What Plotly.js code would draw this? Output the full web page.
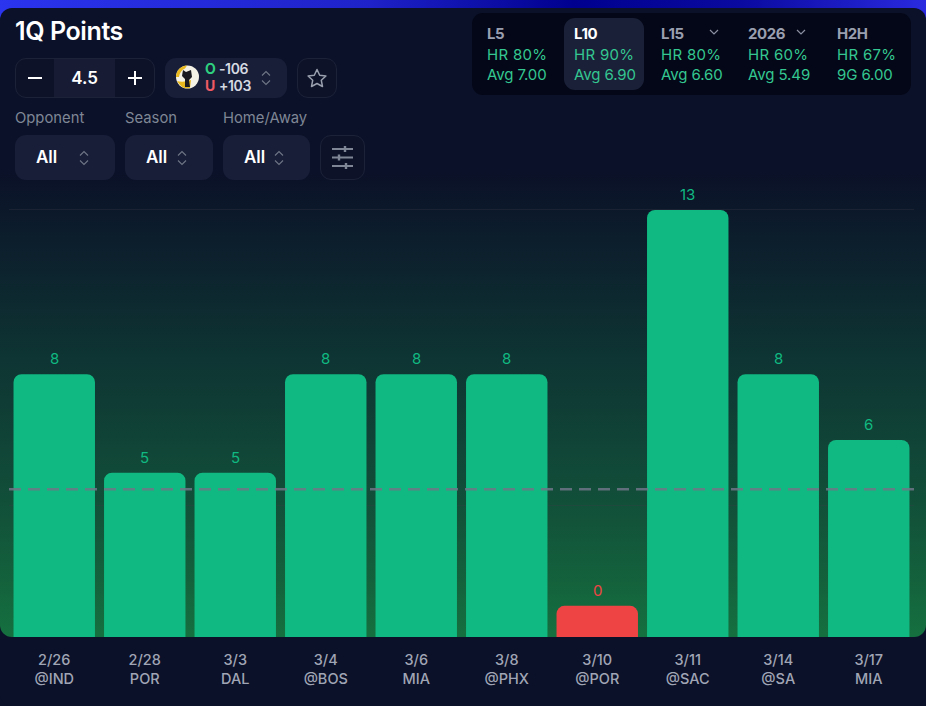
<!DOCTYPE html>
<html><head><meta charset="utf-8">
<script src="https://cdn.plot.ly/plotly-3.0.1.min.js"></script>
<style>
html,body{margin:0;padding:0;background:#0b1128;width:926px;height:706px;overflow:hidden;font-family:Inter,"Noto Sans",sans-serif}
#stripe{position:absolute;left:0;top:0;width:926px;height:30px;background:linear-gradient(90deg,#2b34ee 0%,#1e22c8 40%,#00008f 62%,#0a0aa0 80%,#2a2ae0 100%)}
#card{position:absolute;left:0;top:8px;width:926px;height:698px;background:#0b1128;border-radius:12px 12px 12px 12px}
#grad{position:absolute;left:0;top:172px;width:926px;height:465px;background:linear-gradient(180deg,#0b1128 0%,#0e3433 40%,#12533a 75%,#15703f 100%);border-radius:0 0 12px 12px}
#chart{position:absolute;left:0;top:0;width:926px;height:706px}
.ui{position:absolute;box-sizing:border-box;white-space:nowrap}
.box{background:#181e38;border-radius:11px}
.outline{border:1px solid #1c2238;border-radius:11px;background:#0d1229}
.t{position:absolute;white-space:nowrap;line-height:1;transform:translateY(-50%)}
.lbl{color:#7f8796;font-size:14.8px}
.all{color:#fff;font-size:17px;font-weight:600}
.hd{color:#9a9fb0;font-size:15px;font-weight:700;letter-spacing:-.4px}
.gr{color:#34c791;font-size:15px}
svg{position:absolute;overflow:visible}
</style></head><body>
<div id="stripe"></div><div id="card"></div><div id="grad"></div><div id="chart"></div>
<div id="ui"></div>
<script>
var dates=["2/26","2/28","3/3","3/4","3/6","3/8","3/10","3/11","3/14","3/17"];
var opponents=["@IND","POR","DAL","@BOS","MIA","@PHX","@POR","@SAC","@SA","MIA"];
var points=[8,5,5,8,8,8,0,13,8,6];
var line=4.5;
var zeroStub=0.95;
var gridValues=[4,13];
var splitNames=["L5","L10","L15","2026","H2H"];
var hitRates=["HR 80%","HR 90%","HR 80%","HR 60%","HR 67%"];
var averages=["Avg 7.00","Avg 6.90","Avg 6.60","Avg 5.49","9G 6.00"];
var filters=["Opponent","Season","Home/Away"];

var barHeights=points.map(function(v){return Math.max(v,zeroStub);});
var colors=points.map(function(v){return v>line?"#10b981":"#ef4444";});
var plotTop=172,plotBottom=637,unit=32.85;
var trace={type:"bar",x:dates,y:barHeights,marker:{color:colors,line:{width:0}},hoverinfo:"skip"};
var labels=points.map(function(v,i){return {x:dates[i],y:barHeights[i],xref:"x",yref:"y",text:String(v),showarrow:false,
  yanchor:"bottom",yshift:4,font:{family:"Inter, sans-serif",size:15,color:colors[i]}};});
var layout={width:926,height:706,paper_bgcolor:"rgba(0,0,0,0)",plot_bgcolor:"rgba(0,0,0,0)",showlegend:false,
  margin:{l:9.4,r:11.6,t:plotTop,b:706-plotBottom,pad:0},bargap:0.1,barcornerradius:8,annotations:labels,
  xaxis:{type:"category",tickmode:"array",tickvals:dates,
    ticktext:dates.map(function(d,i){return d+"<br>"+opponents[i];}),
    tickfont:{family:"Inter, sans-serif",size:14.5,color:"#a0a5b5",weight:500},ticks:"outside",ticklen:10,tickcolor:"rgba(0,0,0,0)",showgrid:false,zeroline:false,showline:false,fixedrange:true},
  yaxis:{range:[0,(plotBottom-plotTop)/unit],tickmode:"array",tickvals:gridValues,showticklabels:false,ticks:"",
    gridcolor:"rgba(60,60,70,0.32)",gridwidth:1,zeroline:false,showline:false,fixedrange:true},
  shapes:[{type:"line",xref:"paper",x0:0,x1:1,yref:"y",y0:line,y1:line,layer:"above",
    line:{color:"rgba(110,118,135,0.85)",width:2.5,dash:"12px,7px"}}]};
Plotly.newPlot("chart",[trace],layout,{displayModeBar:false,staticPlot:true});

var ui=document.getElementById("ui"),h="";
function box(x,y,w,ht,cls,extra){h+='<div class="ui '+cls+'" style="left:'+x+'px;top:'+y+'px;width:'+w+'px;height:'+ht+'px;'+(extra||'')+'"></div>';}
function txt(x,y,s,cls,extra){h+='<div class="t '+cls+'" style="left:'+x+'px;top:'+y+'px;'+(extra||'')+'">'+s+'</div>';}
function updown(x,y){h+='<svg style="left:0;top:0" width="1" height="1"><path d="M'+(x-4)+' '+(y-2.5)+'l4 -4l4 4M'+(x-4)+' '+(y+2.5)+'l4 4l4 -4" fill="none" stroke="#6f7686" stroke-width="1.1"/></svg>';}
function chevron(x,y){h+='<svg style="left:0;top:0" width="1" height="1"><path d="M'+(x-4)+' '+(y-2)+'l4 4l4 -4" fill="none" stroke="#8a90a2" stroke-width="1.2"/></svg>';}

txt(15,31,"1Q Points","",'color:#fff;font-size:25px;font-weight:600;letter-spacing:-.4px');
/* stepper */
box(15,58,140,40,"outline");
box(54,59,61,38,"","background:#171c34");
txt(84.5,78,"4.5","",'color:#fff;font-size:17px;font-weight:600;transform:translate(-50%,-50%)');
h+='<svg style="left:0;top:0" width="1" height="1"><path d="M28 78h14M128 78h14M135 71v14" stroke="#fff" stroke-width="2" fill="none"/></svg>';
/* odds */
box(165,58,122,40,"box");
h+='<svg style="left:0;top:0" width="1" height="1"><circle cx="187.5" cy="77" r="11.5" fill="#f4f1e6"/><path d="M176 77a11.5 11.5 0 0 1 11 -11.5l-2 3q-5 2 -6 8.5zM177 81q6 2 14 -1l-1 8q-8 2 -13 -7z" fill="#e8b81e"/><path d="M183 70l3 2l5 -2l1 7l-3 3l1 7l-5 0l0 -8l-3 -3z" fill="#1a1a20"/></svg>';
var oddsStyle='font-size:14px;font-weight:700;';
txt(205,69,'O',"",oddsStyle+'color:#2fd07f');
txt(205,86,'U',"",oddsStyle+'color:#ef5a64');
txt(219,69,"-106","",oddsStyle+'color:#d6d9e2;font-weight:600;letter-spacing:-.4px');
txt(219,86,"+103","",oddsStyle+'color:#d6d9e2;font-weight:600;letter-spacing:-.4px');
updown(266,78);
/* star */
box(297,58,40,40,"outline");
h+='<svg style="left:0;top:0" width="1" height="1"><path d="M317 69.5l2.7 5.7l6.2 .8l-4.6 4.3l1.2 6.2l-5.5 -3l-5.5 3l1.2 -6.2l-4.6 -4.3l6.2 -.8z" fill="none" stroke="#9aa0ae" stroke-width="1.5" stroke-linejoin="round"/></svg>';
/* filters */
var fx=[15,125,223],fw=[100,88,87],ax=[84,182,279];
filters.forEach(function(f,i){
  txt(fx[i],118,f,"lbl");
  box(fx[i],135,fw[i],45,"box");
  txt(fx[i]+21,157,"All","all");
  updown(ax[i],158);
});
box(320,135,45,45,"outline");
h+='<svg style="left:0;top:0" width="1" height="1"><path d="M332 149h21M332 157.5h21M332 166h21" stroke="#7f8796" stroke-width="2"/><path d="M345 146v6M339 154.5v6M346 163v6" stroke="#7f8796" stroke-width="2.4"/></svg>';
/* splits panel */
box(472,13,439,82,"","background:#040717;border-radius:11px");
box(564,18,80,72,"","background:#1a2038;border-radius:11px");
var sx=[487,574,661,748,837];
splitNames.forEach(function(n,i){
  txt(sx[i],33,n,"hd",i==1?'color:#fff':'');
  txt(sx[i],54,hitRates[i],"gr",'letter-spacing:.3px');
  txt(sx[i],74,averages[i],"gr",'letter-spacing:-.1px');
});
chevron(714,32);chevron(801,32);
ui.innerHTML=h;
</script>
</body></html>
